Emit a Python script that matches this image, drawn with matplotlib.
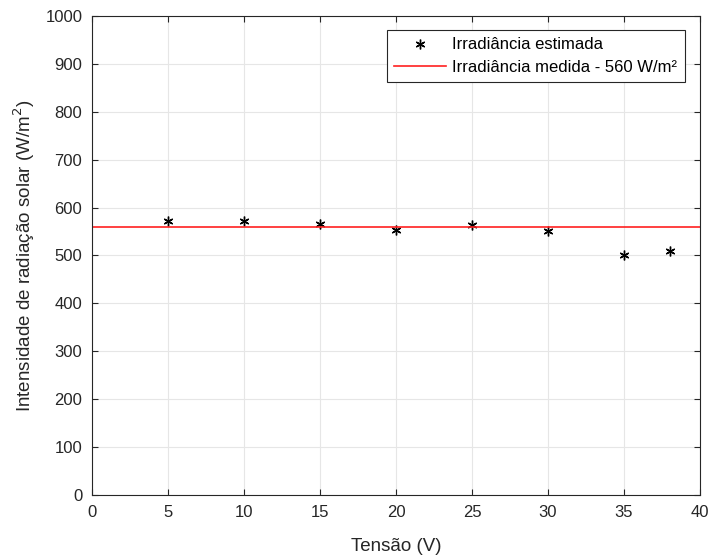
import matplotlib
matplotlib.use('Agg')
import matplotlib.pyplot as plt

tensao = [5, 10, 15, 20, 25, 30, 35, 38]
irradiancia = [572, 572, 565, 553, 563, 552, 502, 510]
medida = 560

plt.rcParams['font.family'] = ['Liberation Sans', 'DejaVu Sans']

fig = plt.figure(figsize=(7.1, 5.57), dpi=100)
ax = fig.add_axes([0.1296, 0.1113, 0.8564, 0.86])

ax.plot(tensao, irradiancia, linestyle='none', marker=(6, 2, 0), markersize=7,
        color='black', markeredgewidth=1.0, label='Irradiância estimada')
ax.axhline(medida, color='#ff2020', linewidth=1.2, label='Irradiância medida - 560 W/m²')

ax.set_xlim(0, 40)
ax.set_ylim(0, 1000)
ax.set_xticks(range(0, 41, 5))
ax.set_yticks(range(0, 1001, 100))
ax.grid(True, color='#e6e6e6', linewidth=0.8)
ax.set_axisbelow(True)
ax.tick_params(direction='in', top=True, right=True, labelsize=12, colors='#262626', length=4, pad=7)
for s in ax.spines.values():
    s.set_color('#262626')
ax.set_xlabel('Tensão (V)', fontsize=13.5, color='#262626', labelpad=13)
ax.set_ylabel('Intensidade de radiação solar (W/m$^2$)', fontsize=13.5, color='#262626', labelpad=6)

leg = ax.legend(loc='upper right', bbox_to_anchor=(0.975, 0.971), borderaxespad=0, fontsize=12,
                fancybox=False, framealpha=1, edgecolor='#262626',
                handlelength=3.1, handletextpad=0.4, borderpad=0.45, labelspacing=0.45)
leg.get_frame().set_linewidth(0.8)

plt.savefig('out.png', dpi=100)
